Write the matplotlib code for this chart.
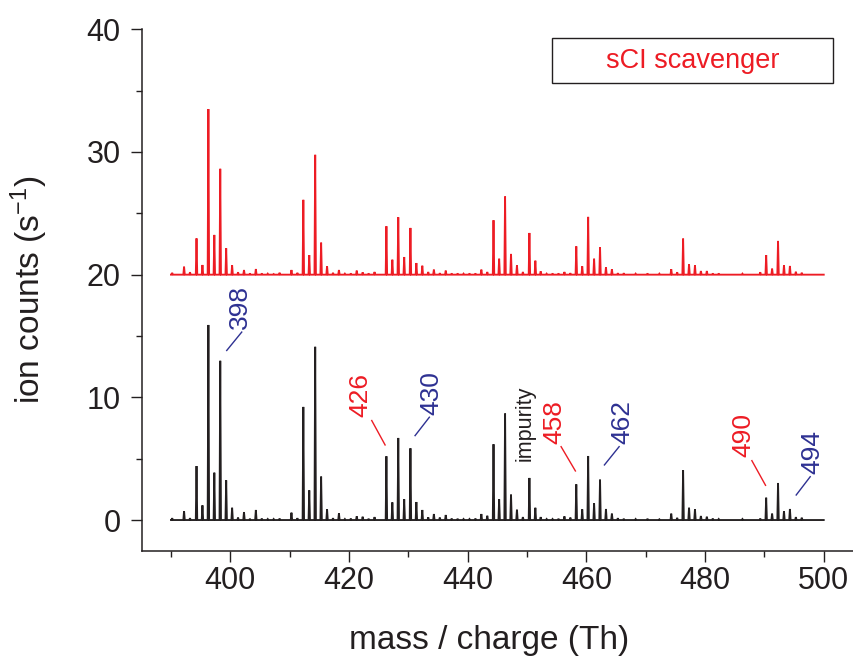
import matplotlib as mpl
mpl.use('Agg')

import numpy as np
import matplotlib.pyplot as plt
from matplotlib.ticker import MultipleLocator
from matplotlib.patches import Rectangle

plt.rcParams['font.family'] = ['Liberation Sans', 'DejaVu Sans']
plt.rcParams['mathtext.default'] = 'regular'

# peak positions (Th) and heights (ion counts / s)
masses = [390.2, 392.2, 393.2, 394.3, 395.3, 396.3, 397.3, 398.3, 399.3, 400.3,
          401.3, 402.3, 403.3, 404.3, 405.3, 406.3, 407.3, 408.3, 410.3, 411.3,
          412.3, 413.3, 414.3, 415.3, 416.3, 417.3, 418.3, 419.3, 420.3, 421.3,
          422.3, 423.3, 424.3, 426.3, 427.3, 428.3, 429.3, 430.35, 431.35, 432.35,
          433.35, 434.3, 435.3, 436.3, 437.3, 438.3, 439.3, 440.3, 441.3, 442.3,
          443.3, 444.35, 445.3, 446.3, 447.3, 448.3, 449.3, 450.4, 451.4, 452.3,
          453.3, 454.3, 455.3, 456.3, 457.3, 458.3, 459.3, 460.3, 461.3, 462.3,
          463.3, 464.3, 465.3, 466.3, 468.3, 470.3, 472.3, 474.3, 475.3, 476.3,
          477.3, 478.3, 479.3, 480.3, 481.3, 482.3, 486.3, 489.3, 490.3, 491.3,
          492.3, 493.3, 494.3, 495.3, 496.3]

no_scavenger = [0.15, 0.73, 0.15, 4.4, 1.2, 15.9, 3.86, 12.98, 3.24, 1.0,
                0.2, 0.65, 0.1, 0.82, 0.12, 0.08, 0.08, 0.12, 0.6, 0.15,
                9.22, 2.42, 14.12, 3.54, 0.87, 0.15, 0.54, 0.08, 0.12, 0.3,
                0.27, 0.1, 0.24, 5.2, 1.44, 6.69, 1.69, 5.85, 1.47, 0.82,
                0.22, 0.49, 0.2, 0.41, 0.12, 0.1, 0.08, 0.08, 0.12, 0.49,
                0.35, 6.18, 1.69, 8.68, 2.07, 0.84, 0.24, 3.43, 1.0, 0.24,
                0.08, 0.08, 0.1, 0.3, 0.2, 2.91, 0.87, 5.22, 1.36, 3.29,
                0.9, 0.52, 0.15, 0.1, 0.08, 0.1, 0.06, 0.52, 0.18, 4.05,
                1.0, 0.87, 0.33, 0.27, 0.12, 0.08, 0.08, 0.12, 1.82, 0.52,
                3.02, 0.73, 0.9, 0.24, 0.19]

with_scavenger = [0.15, 0.65, 0.2, 2.96, 0.79, 13.5, 3.24, 8.63, 2.15, 0.76,
                  0.2, 0.38, 0.1, 0.46, 0.1, 0.08, 0.05, 0.16, 0.38, 0.15,
                  6.1, 1.6, 9.77, 2.61, 0.7, 0.15, 0.38, 0.08, 0.1, 0.33,
                  0.19, 0.1, 0.22, 3.95, 1.22, 4.68, 1.44, 3.81, 0.95, 0.73,
                  0.22, 0.41, 0.12, 0.33, 0.1, 0.1, 0.08, 0.1, 0.1, 0.41,
                  0.22, 4.44, 1.3, 6.37, 1.69, 0.76, 0.22, 3.4, 1.14, 0.27,
                  0.08, 0.1, 0.1, 0.22, 0.12, 2.31, 0.68, 4.71, 1.3, 2.23,
                  0.6, 0.44, 0.12, 0.12, 0.08, 0.1, 0.08, 0.44, 0.2, 2.94,
                  0.84, 0.76, 0.3, 0.3, 0.1, 0.1, 0.08, 0.2, 1.6, 0.49,
                  2.75, 0.76, 0.71, 0.24, 0.16]

scavenger_offset = 20
mz_range = (390, 500)

# peak labels: text, colour, text centre, leader line start / end (data coords)
labels = [
    ('398', 'blue', (401.55, 17.35), (399.39, 13.82), (401.92, 15.32)),
    ('426', 'red', (421.91, 10.2), (423.83, 8.11), (426.08, 6.12)),
    ('430', 'blue', (433.95, 10.34), (431.13, 6.88), (433.54, 8.38)),
    ('458', 'red', (454.53, 8.02), (455.74, 5.98), (458.15, 4.0)),
    ('462', 'blue', (466.03, 8.0), (463.04, 4.49), (465.52, 5.98)),
    ('490', 'red', (486.43, 6.94), (487.89, 4.84), (490.19, 2.83)),
    ('494', 'blue', (498.06, 5.58), (495.36, 2.04), (497.72, 3.53)),
]

RED = '#ED1C24'
BLUE = '#2E3192'
INK = '#231F20'
colors = {'red': RED, 'blue': BLUE}


def stick_trace(mz, heights, base, half_width=0.12):
    xs = [mz_range[0]]
    ys = [base]
    for m, h in zip(mz, heights):
        xs += [m - half_width, m, m + half_width]
        ys += [base, base + h, base]
    xs.append(mz_range[1])
    ys.append(base)
    return np.array(xs), np.array(ys)


fig = plt.figure(figsize=(8.54, 6.57), dpi=100)
ax = fig.add_axes([0.1657, 0.1618, 0.8343, 0.7936])

x, y = stick_trace(masses, no_scavenger, 0)
ax.plot(x, y, color=INK, lw=1.35, solid_joinstyle='miter')
x, y = stick_trace(masses, with_scavenger, scavenger_offset)
ax.plot(x, y, color=RED, lw=1.35, solid_joinstyle='miter')

for txt, c, (tx, ty), (x0, y0), (x1, y1) in labels:
    ax.plot([x0, x1], [y0, y1], color=colors[c], lw=1.0)
    ax.text(tx, ty, txt, color=colors[c], fontsize=19, rotation=90,
            ha='center', va='center')

ax.text(449.68, 7.92, 'impurity', color=INK, fontsize=15.5, rotation=90,
        ha='center', va='center')

# legend-like box
ax.add_patch(Rectangle((0.5761, 0.897), 0.3944, 0.0863, transform=ax.transAxes,
                       fill=False, edgecolor=INK, lw=1.0, clip_on=False))
ax.text(0.7733, 0.940, 'sCI scavenger', color=RED, fontsize=19.5,
        transform=ax.transAxes, ha='center', va='center')

ax.set_xlim(385.03, 505.1)
ax.set_ylim(-2.5, 40)
ax.spines['top'].set_visible(False)
ax.spines['right'].set_visible(False)
for s in ('left', 'bottom'):
    ax.spines[s].set_linewidth(1.1)
    ax.spines[s].set_color(INK)

ax.xaxis.set_major_locator(MultipleLocator(20))
ax.xaxis.set_minor_locator(MultipleLocator(10))
ax.yaxis.set_major_locator(MultipleLocator(10))
ax.yaxis.set_minor_locator(MultipleLocator(5))
ax.tick_params(which='both', direction='out', color=INK, width=1.0,
               labelsize=22, labelcolor=INK)
ax.tick_params(which='major', length=8)
ax.tick_params(which='minor', length=4)
ax.tick_params(axis='x', which='major', pad=3)
ax.tick_params(axis='y', which='major', pad=7)

ax.set_xlabel('mass / charge (Th)', fontsize=24, color=INK)
ax.set_ylabel('ion counts (s$^{-1}$)', fontsize=24, color=INK)
ax.xaxis.set_label_coords(0.4877, -0.143)
ax.yaxis.set_label_coords(-0.128, 0.5)

plt.savefig('out.png', dpi=100)
